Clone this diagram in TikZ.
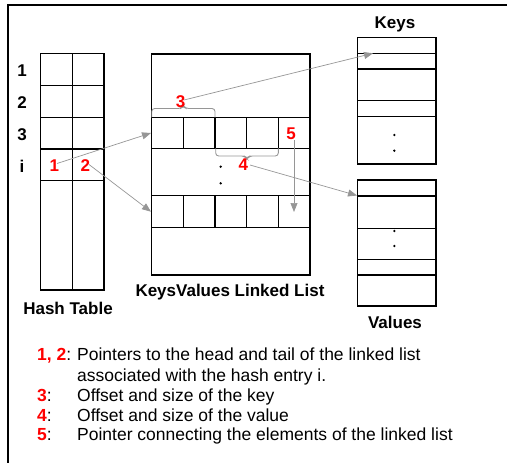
\documentclass[tikz,border=0pt]{standalone}
\usepackage{fontspec}
\setmainfont{Liberation Sans}
\usetikzlibrary{arrows.meta}
\definecolor{ptrgray}{RGB}{150,150,150}
\definecolor{markred}{RGB}{255,0,0}

\begin{document}
\begin{tikzpicture}[x=1pt,y=-1pt,
  grid/.style={line width=1.1pt},
  title/.style={font=\fontsize{17}{20}\selectfont\bfseries, inner sep=0pt},
  rowlabel/.style={font=\fontsize{17}{20}\selectfont\bfseries, inner sep=0pt},
  num/.style={font=\fontsize{17}{20}\selectfont\bfseries, text=markred, inner sep=0pt},
  legend/.style={font=\fontsize{17.5}{20}\selectfont, anchor=base west, inner sep=0pt},
  ptrline/.style={draw=ptrgray, line width=0.7pt, -{Triangle[length=9pt,width=7pt]}},
  brace/.style={draw=ptrgray, line width=0.9pt, rounded corners=3pt},
  dotmark/.style={fill=black, draw=none}
]
\useasboundingbox (0,0) rectangle (507,463);

% frame (top and left edges)
\draw[line width=1.2pt] (8,463) -- (8,5) -- (507,5);

% ---------------- hash table ----------------
\draw[grid] (40.7,53.3) rectangle (104,290);
\draw[grid] (72.7,53.3) -- (72.7,290);
\foreach \y in {85.3,117.3,149,180.3} \draw[grid] (40.7,\y) -- (104,\y);
\node[rowlabel] (r1) at (22,71) {1};
\node[rowlabel] (r2) at (22,103) {2};
\node[rowlabel] (r3) at (22,134.5) {3};
\node[rowlabel] (ri) at (22,166) {i};
\node[title] (ht) at (68,308) {Hash Table};

% ---------------- keys/values linked list ----------------
\draw[grid] (151.7,54) rectangle (310,275);
\foreach \y in {117.3,148.3,195.7,227.3} \draw[grid] (151.7,\y) -- (310,\y);
\foreach \x in {183.3,215,246.7,278.3} {
  \draw[grid] (\x,117.3) -- (\x,148.3);
  \draw[grid] (\x,195.7) -- (\x,227.3);
}
\fill[dotmark] (220.7,166.7) circle (1.3);
\fill[dotmark] (220.7,183.3) circle (1.3);
\node[title] (kvl) at (230,292) {KeysValues Linked List};

% ---------------- keys ----------------
\draw[grid] (357.3,37.3) rectangle (436,164);
\foreach \y in {53.3,69,100.7,116.7} \draw[grid] (357.3,\y) -- (436,\y);
\fill[dotmark] (394.3,135) circle (1.3);
\fill[dotmark] (394.3,150.7) circle (1.3);
\node[title] (keys) at (395,24) {Keys};

% ---------------- values ----------------
\draw[grid] (357.3,180) rectangle (436,306);
\foreach \y in {196,228.3,259.3,275} \draw[grid] (357.3,\y) -- (436,\y);
\fill[dotmark] (394.3,231) circle (1.3);
\fill[dotmark] (394.3,246) circle (1.3);
\node[title] (vals) at (395,322.5) {Values};

% ---------------- braces ----------------
\draw[brace] (151.7,117.3) -- (151.7,108.5) -- (181,108.5) -- (183.3,105.5)
  -- (185.6,108.5) -- (215,108.5) -- (215,117.3);
\draw[brace] (215.7,148.3) -- (215.7,156) -- (244.7,156) -- (247,159)
  -- (249.3,156) -- (278.3,156) -- (278.3,148.3);

% ---------------- red markers ----------------
\node[num] (m1) at (54.3,165.7) {1};
\node[num] (m2) at (85.3,166) {2};
\node[num] (m3) at (180.7,101.7) {3};
\node[num] (m4) at (243.3,165) {4};
\node[num] (m5) at (291,134) {5};

% ---------------- pointer targets ----------------
\coordinate (headcell) at (151,133);
\coordinate (tailcell) at (151,211.7);
\coordinate (keyrow) at (373,53.3);
\coordinate (valrow) at (357,195.5);
\coordinate (s1) at (57,163.5);
\coordinate (s2) at (89,164.5);
\coordinate (s3) at (184,100);
\coordinate (s4) at (250,165);
\coordinate (s5) at (294,140);
\coordinate (nextcell) at (294,212);

\draw[ptrline] (s1) -- (headcell);
\draw[ptrline] (s2) -- (tailcell);
\draw[ptrline] (s3) -- (keyrow);
\draw[ptrline] (s4) -- (valrow);
\draw[ptrline] (s5) -- (nextcell);

% ---------------- legend ----------------
\node[legend] (k12) at (37,360.7) {\textcolor{markred}{\bfseries 1, 2}:};
\node[legend] (t12) at (77,360.7) {Pointers to the head and tail of the linked list};
\node[legend] (t12b) at (77,381.7) {associated with the hash entry i.};
\node[legend] (k3) at (37,401.3) {\textcolor{markred}{\bfseries 3}:};
\node[legend] (t3) at (77,401.3) {Offset and size of the key};
\node[legend] (k4) at (37,421.5) {\textcolor{markred}{\bfseries 4}:};
\node[legend] (t4) at (77,421.5) {Offset and size of the value};
\node[legend] (k5) at (37,440.7) {\textcolor{markred}{\bfseries 5}:};
\node[legend] (t5) at (77,440.7) {Pointer connecting the elements of the linked list};
\end{tikzpicture}
\end{document}
